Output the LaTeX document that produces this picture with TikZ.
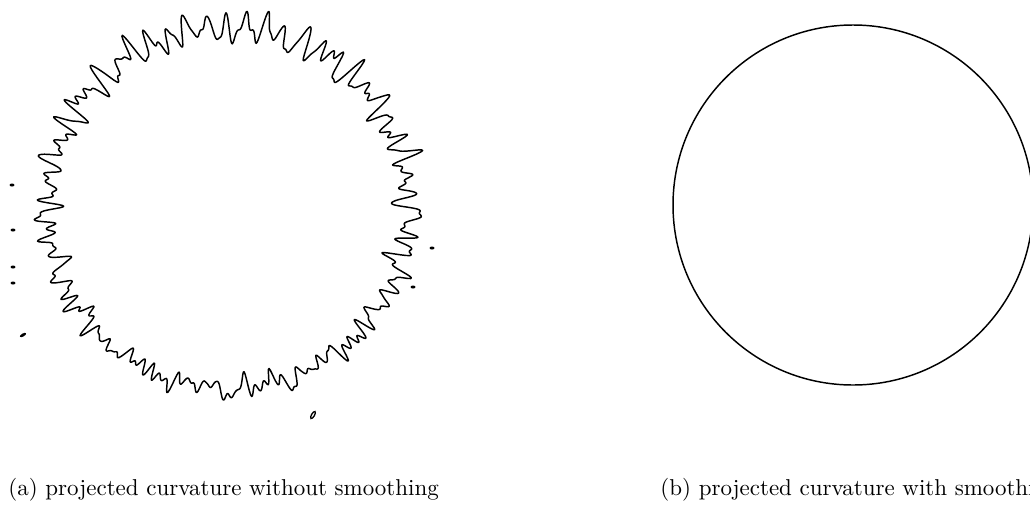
\documentclass[tikz,border=0pt]{standalone}

\tikzset{
  contour/.style={line width=0.22mm, line join=round},
  speck/.style={fill=black},
  caption/.style={anchor=base west, inner sep=0pt, font=\fontsize{9.8}{12}\selectfont}
}

\begin{document}
\begin{tikzpicture}[x=0.15mm, y=-0.15mm,
  declare function={
    rr(\t) = 177 + 7*sin(37*\t)*(0.6+0.4*sin(5*\t+40))
      + 5*sin(59*mod(\t,6.101695)+30)
      + 4*sin(83*mod(\t,4.337349)+70)
      + 3*sin(127*mod(\t,2.834646)+15)
      + 3*sin(17*\t+10)
      + 13*(sin(29*\t+20))^8;
  }]
  \useasboundingbox (0,0) rectangle (1030,525);
  \clip (0,0) rectangle (1030,525);

  % Curvature without smoothing
  \draw[contour] plot[domain=0:360, samples=1400, variable=\t]
    ({228 + rr(\t)*cos(\t)}, {208 + rr(\t)*sin(\t)}) -- cycle;

  % Stray specks
  \foreach \px/\py in {12/185, 13/230, 13/267, 13/283, 432/248, 413/287} {
    \fill[speck] (\px,\py) ellipse (2.5 and 1.5);
  }
  \fill[speck, rotate around={30:(23,335)}] (23,335) ellipse (3.5 and 1.5);
  \draw[line width=0.2mm, rotate around={60:(313,415)}] (313,415) ellipse (4 and 1.5);

  % Curvature with smoothing
  \draw[contour] (853,205) circle (180);

  % Captions
  \node[caption] (capa) at (8,495) {(a) projected curvature without smoothing};
  \node[caption] (capb) at (660,495) {(b) projected curvature with smoothing};

\end{tikzpicture}
\end{document}
